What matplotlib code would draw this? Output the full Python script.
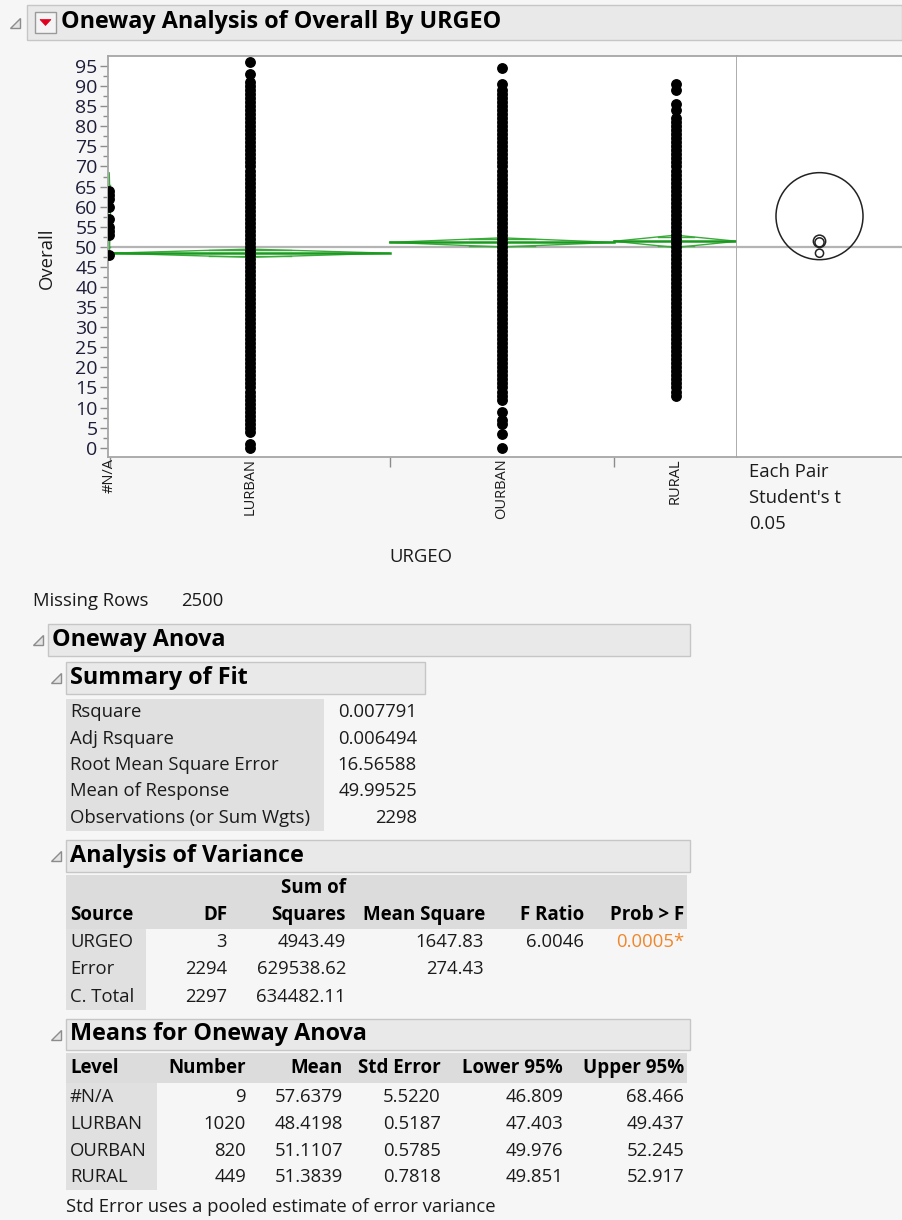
import matplotlib
matplotlib.use("Agg")
import matplotlib.pyplot as plt
import numpy as np
from matplotlib.patches import Rectangle, Polygon, Circle

plt.rcParams['font.family'] = ['Open Sans', 'DejaVu Sans']

# ---- data ----
levels = ["#N/A", "LURBAN", "OURBAN", "RURAL"]
counts = [9, 1020, 820, 449]
means = [57.6379, 48.4198, 51.1107, 51.3839]
std_err = [5.5220, 0.5187, 0.5785, 0.7818]
lower95 = [46.809, 47.403, 49.976, 49.851]
upper95 = [68.466, 49.437, 52.245, 52.917]
grand_mean = 49.99525

# distinct Overall scores visible in each column (dense runs overlap into a bar)
na_scores = [64, 63, 62, 60, 57, 55, 54, 53, 48]
lurban_scores = [0, 1,
                 4, 5, 6, 7, 8, 9, 10, 11, 12, 13, 14, 15, 16, 17, 18, 19, 20, 21, 22, 23,
                 24, 25, 26, 27, 28, 29, 30, 31, 32, 33, 34, 35, 36, 37, 38, 39, 40, 41, 42,
                 43, 44, 45, 46, 47, 48, 49, 50, 51, 52, 53, 54, 55, 56, 57, 58, 59, 60, 61,
                 62, 63, 64, 65, 66, 67, 68, 69, 70, 71, 72, 73, 74, 75, 76, 77, 78, 79, 80,
                 81, 82, 83, 84, 85, 86, 87, 88, 89, 90, 91, 93, 96]
ourban_scores = [0, 3.5, 6, 7, 9,
                 12, 13, 14, 15, 16, 17, 18, 19, 20, 21, 22, 23, 24, 25, 26, 27, 28, 29, 30,
                 31, 32, 33, 34, 35, 36, 37, 38, 39, 40, 41, 42, 43, 44, 45, 46, 47, 48, 49,
                 50, 51, 52, 53, 54, 55, 56, 57, 58, 59, 60, 61, 62, 63, 64, 65, 66, 67, 68,
                 69, 70, 71, 72, 73, 74, 75, 76, 77, 78, 79, 80, 81, 82, 83, 84, 85, 86, 87,
                 88, 89, 90.5, 94.5]
rural_scores = [13, 14, 15, 16, 17, 18, 19, 20, 21, 22, 23, 24, 25, 26, 27, 28, 29, 30,
                31, 32, 33, 34, 35, 36, 37, 38, 39, 40, 41, 42, 43, 44, 45, 46, 47, 48, 49,
                50, 51, 52, 53, 54, 55, 56, 57, 58, 59, 60, 61, 62, 63, 64, 65, 66, 67, 68,
                69, 70, 71, 72, 73, 74, 75, 76, 77, 78, 79, 80, 81, 82, 84, 85.5, 89, 90.5]
scores = [na_scores, lurban_scores, ourban_scores, rural_scores]

summary_labels = ["Rsquare", "Adj Rsquare", "Root Mean Square Error",
                  "Mean of Response", "Observations (or Sum Wgts)"]
summary_values = [0.007791, 0.006494, 16.56588, 49.99525, 2298]
summary_fmt = ["{:.6f}", "{:.6f}", "{:.5f}", "{:.5f}", "{:d}"]

anova_source = ["URGEO", "Error", "C. Total"]
anova_df = [3, 2294, 2297]
anova_ss = [4943.49, 629538.62, 634482.11]
anova_ms = [1647.83, 274.43]
f_ratio = 6.0046
prob_f = 0.0005
missing_rows = 2500
alpha = 0.05

# ---- figure in pixel units ----
W, H = 902, 1220
BG = '#F6F6F6'
TXT = '#1B1B1B'
BODY = 13.3
HDR = 13.5
TITLE = 16.8
fig = plt.figure(figsize=(W / 100, H / 100), dpi=100, facecolor=BG)


def fx(x):
    return x / W


def fy(y):
    return 1 - y / H


def txt(x, y, s, size=BODY, weight='normal', ha='left', color=TXT, **kw):
    fig.text(fx(x), fy(y), s, fontsize=size, fontweight=weight, ha=ha,
             va='center', color=color, **kw)


def box(x0, y0, x1, y1, fc, ec='none', lw=1.0):
    fig.patches.append(Rectangle((fx(x0), fy(y1)), (x1 - x0) / W, (y1 - y0) / H,
                                 transform=fig.transFigure, facecolor=fc,
                                 edgecolor=ec, linewidth=lw, zorder=0))


def disclosure(x, y):
    # little grey "open" triangle in front of each outline title
    pts = [(fx(x), fy(y + 5)), (fx(x + 10), fy(y + 5)), (fx(x + 10), fy(y - 5))]
    fig.patches.append(Polygon(pts, closed=True, transform=fig.transFigure,
                               facecolor='#E4E4E4', edgecolor='#8C8C8C', lw=1.0))


def title_bar(x0, y0, x1, y1, label):
    box(x0, y0, x1, y1, '#E9E9E9', '#C6C6C6', 1.0)
    disclosure(x0 - 15, (y0 + y1) / 2)
    txt(x0 + 4, (y0 + y1) / 2, label, size=TITLE, weight='bold', color='black')


# top report title
box(27, 5, 902, 40, '#E9E9E9', '#C6C6C6', 1.0)
disclosure(10, 23)
box(35, 12, 56, 33, '#F4F4F4', '#9A9A9A', 1.0)
fig.patches.append(Polygon([(fx(40), fy(19.5)), (fx(51), fy(19.5)), (fx(45.5), fy(25.5))],
                           closed=True, transform=fig.transFigure,
                           facecolor='#E00020', edgecolor='#E00020', lw=0.5))
txt(61, 22, "Oneway Analysis of Overall By URGEO", size=TITLE, weight='bold', color='black')

# ---- oneway plot ----
ax = fig.add_axes([fx(108), fy(457), (737 - 108) / W, (457 - 56) / H])
ax.set_facecolor('white')
edges = np.concatenate([[0], np.cumsum(counts)])
centers = (edges[:-1] + edges[1:]) / 2
ylim = (-2.3, 97.5)
ax.set_xlim(0, edges[-1])
ax.set_ylim(*ylim)

ax.axhline(grand_mean, color='#B4B4B4', lw=1.6, zorder=1)

for i in range(len(levels)):
    left, right, c = edges[i], edges[i + 1], centers[i]
    m, lo, up = means[i], lower95[i], upper95[i]
    ax.plot([left, c, right, c, left], [m, up, m, lo, m], color='#3AAA3A', lw=1.0, zorder=2)
    ax.plot([left, right], [m, m], color='#199A1F', lw=1.8, zorder=2)
    h = (up - m) / np.sqrt(2)
    hw = (right - left) / 2 * (1 - 1 / np.sqrt(2))
    for yy in (m + h, m - h):
        ax.plot([c - hw, c + hw], [yy, yy], color='#3AAA3A', lw=1.0, zorder=2)
    ax.plot(np.full(len(scores[i]), c), scores[i], 'o', color='black', ms=6.8,
            mec='black', zorder=3)

ax.set_yticks(np.arange(0, 96, 5))
ax.set_yticks(np.arange(2.5, 96, 5), minor=True)
ax.tick_params(axis='y', which='major', length=6, width=1, color='#8C8C8C',
               labelsize=14, labelcolor='#1E1E3A', pad=1.5)
ax.tick_params(axis='y', which='minor', length=3.5, width=1, color='#8C8C8C')
ax.set_xticks(edges[1:-1])
ax.set_xticklabels([])
ax.set_xticks(centers, minor=True)
ax.set_xticklabels(levels, minor=True, rotation=90, fontsize=10.5, va='top', color=TXT)
ax.tick_params(axis='x', which='major', length=7, width=1, color='#8C8C8C')
ax.tick_params(axis='x', which='minor', length=0, pad=1)
for s in ax.spines.values():
    s.set_color('#A6A6A6')
    s.set_linewidth(1.3)

# comparison circles panel
ax2 = fig.add_axes([fx(737), fy(457), (W - 737) / W, (457 - 56) / H])
ax2.set_facecolor('white')
ax2.set_ylim(*ylim)
pw, ph = (W - 737), (457 - 56)
xspan = (ylim[1] - ylim[0]) * pw / ph
ax2.set_xlim(0, xspan)
ax2.axhline(grand_mean, color='#B4B4B4', lw=1.6, zorder=1)
for i in range(len(levels)):
    r = (upper95[i] - lower95[i]) / 2
    ax2.add_patch(Circle((xspan / 2, means[i]), r, facecolor='none',
                         edgecolor='#222222', lw=1.1, zorder=2))
ax2.set_xticks([])
ax2.set_yticks([])
for k, s in ax2.spines.items():
    s.set_color('#A6A6A6')
    s.set_linewidth(1.3)
    if k in ('left', 'right'):
        s.set_visible(False)

fig.text(fx(47), fy(258), "Overall", rotation=90, fontsize=BODY, ha='center',
         va='center', color=TXT)
txt(421, 557, "URGEO", ha='center')
txt(749, 472, "Each Pair")
txt(749, 498, "Student's t")
txt(749, 524, f"{alpha:.2f}")
txt(33, 601, "Missing Rows")
txt(181, 601, f"{missing_rows}")

# ---- Oneway Anova / Summary of Fit ----
title_bar(48, 624, 690, 656, "Oneway Anova")
title_bar(66, 662, 425, 694, "Summary of Fit")
box(66, 699, 324, 831, '#E0E0E0')
for j, lab in enumerate(summary_labels):
    yy = 712 + j * 26.5
    txt(70, yy, lab)
    txt(417, yy, summary_fmt[j].format(summary_values[j]), ha='right')

# ---- Analysis of Variance ----
title_bar(66, 840, 690, 872, "Analysis of Variance")
box(66, 875, 687, 929, '#DCDCDC')
box(66, 929, 146, 1010, '#E0E0E0')
txt(70, 915, "Source", size=HDR, weight='bold', color='black')
txt(228, 915, "DF", size=HDR, weight='bold', ha='right', color='black')
txt(346, 888, "Sum of", size=HDR, weight='bold', ha='right', color='black')
txt(346, 915, "Squares", size=HDR, weight='bold', ha='right', color='black')
txt(485, 915, "Mean Square", size=HDR, weight='bold', ha='right', color='black')
txt(584, 915, "F Ratio", size=HDR, weight='bold', ha='right', color='black')
txt(684, 915, "Prob > F", size=HDR, weight='bold', ha='right', color='black')
for j, src in enumerate(anova_source):
    yy = 942 + j * 27.5
    txt(70, yy, src)
    txt(227, yy, f"{anova_df[j]}", ha='right')
    txt(346, yy, f"{anova_ss[j]:.2f}", ha='right')
    if j < len(anova_ms):
        txt(484, yy, f"{anova_ms[j]:.2f}", ha='right')
txt(584, 942, f"{f_ratio:.4f}", ha='right')
txt(684, 942, f"{prob_f:.4f}*", ha='right', color='#F0862A')

# ---- Means for Oneway Anova ----
title_bar(66, 1019, 690, 1050, "Means for Oneway Anova")
box(66, 1053, 687, 1083, '#DCDCDC')
box(66, 1083, 157, 1190, '#E0E0E0')
txt(70, 1068, "Level", size=HDR, weight='bold', color='black')
cols = [(246, "Number"), (343, "Mean"), (441, "Std Error"),
        (563, "Lower 95%"), (684, "Upper 95%")]
for xr, lab in cols:
    txt(xr, 1068, lab, size=HDR, weight='bold', ha='right', color='black')
for j, lev in enumerate(levels):
    yy = 1097 + j * 26.8
    txt(70, yy, lev)
    txt(246, yy, f"{counts[j]}", ha='right')
    txt(343, yy, f"{means[j]:.4f}", ha='right')
    txt(441, yy, f"{std_err[j]:.4f}", ha='right')
    txt(563, yy, f"{lower95[j]:.3f}", ha='right')
    txt(684, yy, f"{upper95[j]:.3f}", ha='right')
txt(66, 1207, "Std Error uses a pooled estimate of error variance")

fig.savefig("out.png", dpi=100, facecolor=BG)
